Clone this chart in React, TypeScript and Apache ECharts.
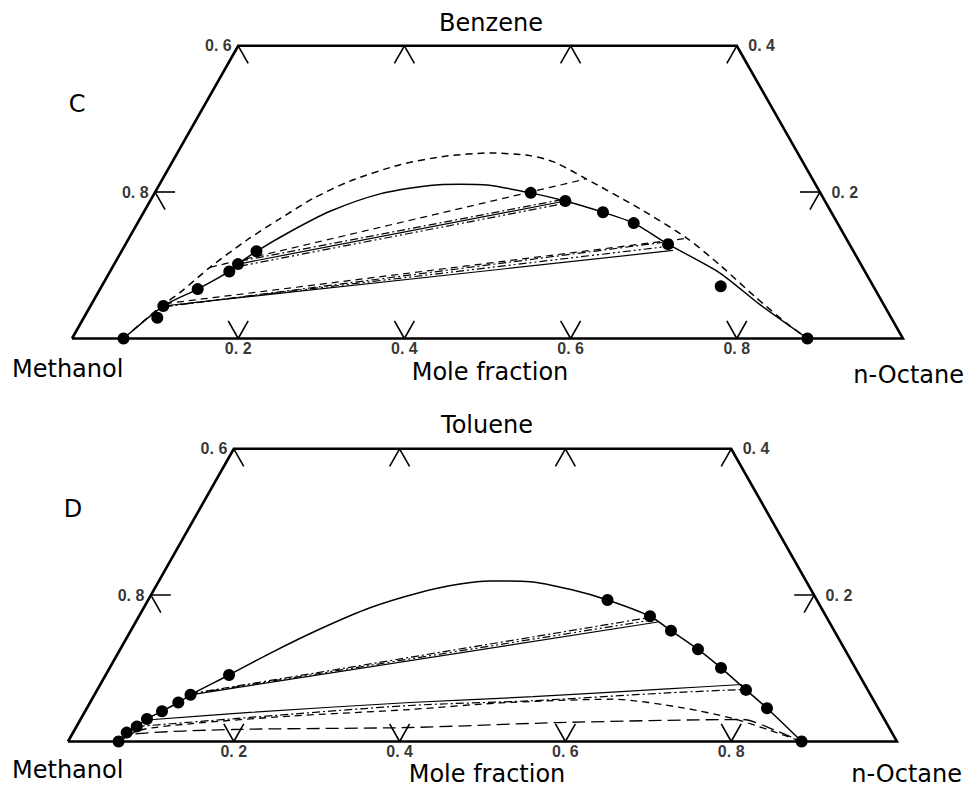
import React, { useEffect, useRef } from "react";
import * as echarts from "echarts";

// Ternary points: [n-Octane mole fraction, aromatic (Benzene / Toluene) mole fraction]
type TP = [number, number];

// ---------- Panel C : Methanol / Benzene / n-Octane ----------
const cExperimental: TP[] = [
  [0.062, 0], [0.0885, 0.0283], [0.0877, 0.0444], [0.1175, 0.0675], [0.1435, 0.0916],
  [0.1489, 0.1017], [0.1624, 0.1192], [0.4525, 0.199], [0.4997, 0.1879], [0.5527, 0.1725],
  [0.5971, 0.1577], [0.6528, 0.1289], [0.745, 0.0713], [0.885, 0],
];
const cCalcSolid: TP[] = [
  [0.062, 0], [0.0877, 0.0444], [0.1175, 0.0675], [0.1435, 0.0916], [0.1489, 0.1017],
  [0.1624, 0.1192], [0.1894, 0.1459], [0.2236, 0.1738], [0.2718, 0.1976], [0.3263, 0.2091],
  [0.3615, 0.2108], [0.3945, 0.2098], [0.4525, 0.199], [0.4997, 0.1879], [0.5527, 0.1725],
  [0.5971, 0.1577], [0.6528, 0.1289], [0.735, 0.0895], [0.8048, 0.0462], [0.885, 0],
];
const cCalcDashed: TP[] = [
  [0.062, 0], [0.0864, 0.0462], [0.0986, 0.0627], [0.1174, 0.0973], [0.1433, 0.1346],
  [0.1685, 0.1637], [0.1944, 0.1913], [0.227, 0.2151], [0.276, 0.2375], [0.3244, 0.249],
  [0.3763, 0.2535], [0.4262, 0.2499], [0.4609, 0.2406], [0.5078, 0.219], [0.5949, 0.1772],
  [0.6717, 0.1369], [0.7314, 0.0991], [0.7934, 0.0571], [0.852, 0.0193], [0.885, 0],
];
const cTieSolid: TP[][] = [
  [[0.1489, 0.1017], [0.4997, 0.1879]],
  [[0.0877, 0.0444], [0.6631, 0.1203]],
];
const cTieDashed: TP[][] = [
  [[0.1174, 0.0973], [0.5085, 0.2177]],
  [[0.0881, 0.0476], [0.6717, 0.1369]],
];
const cTieDashDot: TP[][] = [
  [[0.1493, 0.1058], [0.4958, 0.1901]],
  [[0.0902, 0.0435], [0.6444, 0.1312]],
];
const cTieDashDotDot: TP[][] = [
  [[0.1527, 0.0989], [0.5009, 0.1847]],
  [[0.0887, 0.0441], [0.6531, 0.1257]],
];

// ---------- Panel D : Methanol / Toluene / n-Octane ----------
const dExperimental: TP[] = [
  [0.061, 0], [0.0647, 0.0122], [0.0727, 0.0204], [0.0799, 0.0307], [0.0927, 0.0414],
  [0.1064, 0.0533], [0.1159, 0.0638], [0.1488, 0.0909], [0.5541, 0.1934], [0.6165, 0.1711],
  [0.6516, 0.1515], [0.697, 0.1259], [0.7374, 0.1006], [0.7826, 0.0705], [0.8205, 0.0454],
  [0.885, 0],
];
const dCalcSolid: TP[] = [
  [0.061, 0], [0.0647, 0.0122], [0.0727, 0.0204], [0.0799, 0.0307], [0.0927, 0.0414],
  [0.1064, 0.0533], [0.1159, 0.0638], [0.1488, 0.0909], [0.1834, 0.1205], [0.2271, 0.1537],
  [0.2729, 0.1828], [0.3228, 0.2037], [0.3653, 0.2151], [0.3994, 0.2193], [0.4481, 0.2184],
  [0.5029, 0.2077], [0.5541, 0.1934], [0.6165, 0.1711], [0.6516, 0.1515], [0.697, 0.1259],
  [0.7374, 0.1006], [0.7826, 0.0705], [0.8205, 0.0454], [0.885, 0],
];
const dCalcDashed: TP[] = [
  [0.061, 0], [0.0791, 0.0156], [0.1351, 0.0242], [0.2504, 0.0347], [0.3907, 0.0437],
  [0.4948, 0.0527], [0.6285, 0.0578], [0.7189, 0.046], [0.7865, 0.0314], [0.8392, 0.0153],
  [0.885, 0],
];
const dCalcLongDashed: TP[] = [
  [0.061, 0], [0.0734, 0.0101], [0.1908, 0.0164], [0.403, 0.0191], [0.577, 0.0258],
  [0.7992, 0.0301], [0.8451, 0.0154], [0.885, 0],
];
const dTieSolid: TP[][] = [
  [[0.1159, 0.0638], [0.63, 0.1633]],
  [[0.0806, 0.0294], [0.1996, 0.0398], [0.3859, 0.0533], [0.5303, 0.0612], [0.6867, 0.0719], [0.7741, 0.0779]],
];
const dTieDashDot: TP[][] = [
  [[0.1146, 0.0652], [0.614, 0.1688]],
  [[0.0727, 0.0204], [0.2031, 0.0329], [0.3879, 0.0492], [0.533, 0.0558], [0.6894, 0.0664], [0.781, 0.0712]],
];
const dTieDashDotDot: TP[][] = [
  [[0.115, 0.0645], [0.6215, 0.166]],
];

// ---------- Axes / ticks ----------
const frameCorners: TP[] = [[0, 0], [1, 0], [0.6, 0.4], [0, 0.4], [0, 0]];
const bottomTicks = [0.2, 0.4, 0.6, 0.8];
const bottomTickLabels = ["0. 2", "0. 4", "0. 6", "0. 8"];
const topTicks = [0, 0.2, 0.4, 0.6];
const leftTickPoints: TP[] = [[0, 0.2], [0, 0.4]];
const leftTickLabels = ["0. 8", "0. 6"];
const rightTickPoints: TP[] = [[0.8, 0.2], [0.6, 0.4]];
const rightTickLabels = ["0. 2", "0. 4"];

const SQ3 = Math.sqrt(3) / 2;
const toXY = (p: TP): number[] => [p[0] + p[1] / 2, p[1] * SQ3];

const DASH: number[] = [7, 5];
const LONGDASH: number[] = [13, 6];
const DASHDOT: number[] = [8, 3, 2, 3];
const DASHDOTDOT: number[] = [8, 3, 2, 3, 2, 3];

interface Panel {
  exp: TP[];
  curves: { pts: TP[]; type: any; width: number }[];
  ties: { pts: TP[]; type: any }[];
}

const panels: Panel[] = [
  {
    exp: cExperimental,
    curves: [
      { pts: cCalcSolid, type: "solid", width: 1.5 },
      { pts: cCalcDashed, type: DASH, width: 1.5 },
    ],
    ties: [
      ...cTieSolid.map((p) => ({ pts: p, type: "solid" as any })),
      ...cTieDashed.map((p) => ({ pts: p, type: DASH })),
      ...cTieDashDot.map((p) => ({ pts: p, type: DASHDOT })),
      ...cTieDashDotDot.map((p) => ({ pts: p, type: DASHDOTDOT })),
    ],
  },
  {
    exp: dExperimental,
    curves: [
      { pts: dCalcSolid, type: "solid", width: 1.5 },
      { pts: dCalcDashed, type: DASH, width: 1.3 },
      { pts: dCalcLongDashed, type: LONGDASH, width: 1.3 },
    ],
    ties: [
      ...dTieSolid.map((p) => ({ pts: p, type: "solid" as any })),
      ...dTieDashDot.map((p) => ({ pts: p, type: DASHDOT })),
      ...dTieDashDotDot.map((p) => ({ pts: p, type: DASHDOTDOT })),
    ],
  },
];

const TICK = 0.024;
const tickSegments = (): TP[][] => {
  const s: TP[][] = [];
  bottomTicks.forEach((t) => {
    s.push([[t, 0], [t, TICK]]);
    s.push([[t, 0], [t - TICK, TICK]]);
  });
  topTicks.forEach((t) => {
    s.push([[t, 0.4], [t, 0.4 - TICK]]);
    s.push([[t, 0.4], [t + TICK, 0.4 - TICK]]);
  });
  s.push([[0, 0.2], [TICK, 0.2]]);
  s.push([[0, 0.2], [TICK, 0.2 - TICK]]);
  s.push([[0.8, 0.2], [0.8 - TICK, 0.2]]);
  s.push([[0.8, 0.2], [0.8, 0.2 - TICK]]);
  return s;
};

const tickFont = {
  fontFamily: "'Liberation Sans Narrow', 'Liberation Sans', Arial, sans-serif",
  fontWeight: "bold" as any,
  fontSize: 16,
  color: "#000",
};

function panelSeries(gi: number, p: Panel): any[] {
  const base = { xAxisIndex: gi, yAxisIndex: gi, silent: true, animation: false };
  const series: any[] = [];
  series.push({
    ...base, type: "line", data: frameCorners.map(toXY), symbol: "none", smooth: false,
    lineStyle: { color: "#000", width: 2.6, join: "miter" }, clip: false, z: 3,
  });
  series.push({
    ...base, type: "lines", coordinateSystem: "cartesian2d",
    data: tickSegments().map((sg) => ({ coords: sg.map(toXY) })),
    lineStyle: { color: "#000", width: 1.6, opacity: 1, curveness: 0 }, z: 3,
  });
  p.curves.forEach((c) => {
    series.push({
      ...base, type: "line", data: c.pts.map(toXY), symbol: "none", smooth: 0.25, clip: false,
      lineStyle: { color: "#000", width: c.width, type: c.type }, z: 2,
    });
  });
  p.ties.forEach((t) => {
    series.push({
      ...base, type: "line", data: t.pts.map(toXY), symbol: "none", smooth: t.pts.length > 2 ? 0.3 : false,
      clip: false, lineStyle: { color: "#000", width: 1.2, type: t.type }, z: 2,
    });
  });
  series.push({
    ...base, type: "scatter", data: p.exp.map(toXY), symbol: "circle", symbolSize: 12,
    itemStyle: { color: "#000", opacity: 1 }, clip: false, z: 5,
  });
  const labelData: any[] = [];
  bottomTicks.forEach((t, i) =>
    labelData.push({ name: bottomTickLabels[i], value: toXY([t, 0]), label: { position: "bottom", distance: 1 } })
  );
  leftTickPoints.forEach((pt, i) =>
    labelData.push({ name: leftTickLabels[i], value: toXY(pt), label: { position: "left", distance: 6 } })
  );
  rightTickPoints.forEach((pt, i) =>
    labelData.push({ name: rightTickLabels[i], value: toXY(pt), label: { position: "right", distance: 11 } })
  );
  series.push({
    ...base, type: "scatter", data: labelData, symbol: "circle", symbolSize: 1,
    itemStyle: { color: "rgba(0,0,0,0)" }, clip: false, z: 6,
    label: { show: true, formatter: "{b}", ...tickFont },
  });
  return series;
}

const MAIN_FONT = "'DejaVu Sans', 'Liberation Sans', sans-serif";
const text = (t: string, x: number, y: number, size: number, align: string = "center") => ({
  type: "text", x, y, silent: true,
  style: {
    text: t, fill: "#000", font: `${size}px ${MAIN_FONT}`,
    textAlign: align, textVerticalAlign: "middle", align, verticalAlign: "middle",
  },
});

export default function App() {
  const ref = useRef<HTMLDivElement>(null);
  useEffect(() => {
    if (!ref.current) return;
    const chart = echarts.init(ref.current, undefined, { renderer: "svg" });
    chart.setOption({
      animation: false,
      backgroundColor: "#fff",
      grid: [
        { left: 72, top: 0.5, width: 831, height: 338 },
        { left: 68, top: 403.5, width: 829, height: 338 },
      ],
      xAxis: [
        { gridIndex: 0, type: "value", min: 0, max: 1, show: false },
        { gridIndex: 1, type: "value", min: 0, max: 1, show: false },
      ],
      yAxis: [
        { gridIndex: 0, type: "value", min: 0, max: 0.4, show: false },
        { gridIndex: 1, type: "value", min: 0, max: 0.4, show: false },
      ],
      series: [...panelSeries(0, panels[0]), ...panelSeries(1, panels[1])],
      graphic: {
        elements: [
          text("Benzene", 491, 23, 24),
          text("C", 77, 104, 24),
          text("Methanol", 12, 369, 24, "left"),
          text("Mole fraction", 490, 372, 24),
          text("n-Octane", 964, 375, 24, "right"),
          text("Toluene", 487, 425, 24),
          text("D", 73, 509, 24),
          text("Methanol", 12, 770, 24, "left"),
          text("Mole fraction", 487, 774, 24),
          text("n-Octane", 962, 774, 24, "right"),
        ],
      },
    });
    return () => chart.dispose();
  }, []);
  return (
    <div
      ref={ref}
      style={{ position: "fixed", left: 0, top: 0, width: 976, height: 787, background: "#fff" }}
    />
  );
}
